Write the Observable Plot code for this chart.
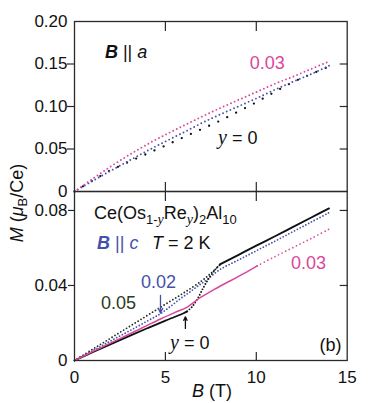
<!DOCTYPE html>
<html><head><meta charset="utf-8">
<script src="https://cdn.jsdelivr.net/npm/d3@7"></script>
<script src="https://cdn.jsdelivr.net/npm/@observablehq/plot@0.6"></script>
<style>
body{margin:0;background:#fff;}
#wrap{position:relative;width:382px;height:403px;font-family:"Liberation Sans",Arial,sans-serif;}
#wrap svg{position:absolute;left:0;overflow:visible;background:transparent;}
</style></head><body><div id="wrap"></div>
<script>
// ---------- Panel (a): B || a ----------
const topB      = [0, 1, 2, 3, 4, 5, 6, 7, 8, 9, 10, 11, 12, 13, 14];
const topM_y0   = [0, 0.0130, 0.0250, 0.0350, 0.0445, 0.0540, 0.0638, 0.0735, 0.0832, 0.0940, 0.1050, 0.1170, 0.1285, 0.1380, 0.1470];
const topM_y002 = [0, 0.0124, 0.0245, 0.0362, 0.0478, 0.0588, 0.0695, 0.0805, 0.0905, 0.1000, 0.1095, 0.1195, 0.1290, 0.1380, 0.1480];
const topM_y003 = [0, 0.0150, 0.0295, 0.0430, 0.0555, 0.0668, 0.0775, 0.0880, 0.0980, 0.1075, 0.1170, 0.1265, 0.1350, 0.1440, 0.1530];
const topYTicks = [0, 0.05, 0.10, 0.15, 0.20];

// ---------- Panel (b): B || c ----------
const botB_y0_low  = [0, 1, 2, 3, 4, 5, 5.5, 6, 6.2];
const botM_y0_low  = [0, 0.0044, 0.0087, 0.0130, 0.0172, 0.0213, 0.0232, 0.0252, 0.0262];
const botB_y0_jump = [6.2, 6.5, 6.8, 7.1, 7.4, 7.7, 8.0];
const botM_y0_jump = [0.0262, 0.0290, 0.0335, 0.0390, 0.0440, 0.0480, 0.0512];
const botB_y0_high = [8.0, 9, 10, 11, 12, 13, 14];
const botM_y0_high = [0.0512, 0.0562, 0.0612, 0.0661, 0.0711, 0.0761, 0.0811];

const botB_y005 = [0, 1, 2, 3, 4, 5, 6, 7, 7.5, 8];
const botM_y005 = [0, 0.0060, 0.0120, 0.0180, 0.0240, 0.0300, 0.0360, 0.0425, 0.0465, 0.0510];

const botB_y002 = [0, 1, 2, 3, 4, 4.7, 5.3, 5.8, 6.3, 6.8, 7.3, 8, 9, 10, 11, 12, 13, 14];
const botM_y002 = [0, 0.0052, 0.0105, 0.0157, 0.0210, 0.0248, 0.0290, 0.0328, 0.0362, 0.0398, 0.0432, 0.0485, 0.0535, 0.0585, 0.0635, 0.0686, 0.0737, 0.0788];

const botB_y003_solid = [0, 1, 2, 3, 4, 4.73, 5.5, 6.2, 6.93, 7.5, 8, 8.58, 9.3, 10.05];
const botM_y003_solid = [0, 0.0047, 0.0094, 0.0140, 0.0187, 0.0221, 0.0255, 0.0285, 0.0336, 0.0368, 0.0396, 0.0425, 0.0463, 0.0505];
const botB_y003_dot   = [10.05, 11, 12, 13, 14];
const botM_y003_dot   = [0.0505, 0.0553, 0.0601, 0.0650, 0.0700];
const botYTicks = [0, 0.04, 0.08];
const xTicks = [0, 5, 10, 15];

// annotation anchors (data coordinates)
const topLabels = [{B: 10.6, M: 0.1507, t: "0.03", c: "magenta"}];
const botLabels = [
  {B: 4.62, M: 0.0416, t: "0.02", c: "blue"},
  {B: 2.42, M: 0.0304, t: "0.05", c: "green"},
  {B: 12.87, M: 0.0517, t: "0.03", c: "magenta"},
  {B: 14.08, M: 0.0080, t: "(b)", c: "black"}
];
const botArrows = [
  {x1: 4.73, y1: 0.0347, x2: 4.73, y2: 0.0253, c: "blue"},
  {x1: 6.10, y1: 0.0171, x2: 6.10, y2: 0.0233, c: "black"}
];

const COL = {magenta: "#d8479c", blue: "#4650ad", green: "#2b3a22", black: "#111"};
const SANS = "Liberation Sans, Arial, sans-serif";
const SERIF = "Liberation Serif, Times New Roman, serif";
const FRAME = "#2a2a2a";

const rows = (B, M) => B.map((b, i) => ({B: b, M: M[i]}));
const blank = () => "";
const fmt = d => d === 0 ? "0" : d.toFixed(2);

const wrap = document.getElementById("wrap");

// ---------- top panel ----------
const topPlot = Plot.plot({
  width: 382, height: 191,
  marginLeft: 74, marginRight: 35.3, marginTop: 21, marginBottom: 0,
  x: {domain: [0, 15], label: null},
  y: {domain: [0, 0.2], label: null},
  style: {fontFamily: SANS, background: "transparent", overflow: "visible"},
  marks: [
    Plot.line(rows(topB, topM_y0), {x: "B", y: "M", stroke: COL.black, strokeWidth: 2.3, strokeDasharray: "0,10", strokeLinecap: "round", curve: "catmull-rom"}),
    Plot.line(rows(topB, topM_y002), {x: "B", y: "M", stroke: COL.blue, strokeWidth: 1.9, strokeDasharray: "0,4", strokeLinecap: "round", curve: "catmull-rom"}),
    Plot.line(rows(topB, topM_y003), {x: "B", y: "M", stroke: COL.magenta, strokeWidth: 1.9, strokeDasharray: "0,4", strokeLinecap: "round", curve: "catmull-rom"}),
    Plot.text(topLabels, {x: "B", y: "M", text: "t", fill: d => COL[d.c], fontSize: 18, fontFamily: SANS}),
    Plot.axisY({anchor: "left", ticks: topYTicks, tickSize: 0, tickPadding: 7, tickFormat: fmt, fontSize: 17, label: null, fill: "#111"}),
    Plot.axisY({anchor: "left", ticks: [0.05, 0.10, 0.15], tickSize: 7, tickFormat: blank, label: null, stroke: FRAME, strokeWidth: 1.2}),
    Plot.axisY({anchor: "right", ticks: [0.05, 0.10, 0.15], tickSize: -8, tickFormat: blank, label: null, stroke: FRAME, strokeWidth: 1.2}),
    Plot.axisX({anchor: "top", ticks: [5, 10], tickSize: -9, tickFormat: blank, label: null, stroke: FRAME, strokeWidth: 1.2}),
    Plot.axisX({anchor: "bottom", ticks: [5, 10], tickSize: -9, tickFormat: blank, label: null, stroke: FRAME, strokeWidth: 1.2}),
    Plot.frame({stroke: FRAME, strokeWidth: 1.3})
  ]
});
topPlot.style.top = "0px";
wrap.appendChild(topPlot);

// ---------- bottom panel ----------
const botPlot = Plot.plot({
  width: 382, height: 212,
  marginLeft: 74, marginRight: 35.3, marginTop: 0, marginBottom: 43,
  x: {domain: [0, 15], label: null},
  y: {domain: [0, 0.0901], label: null},
  style: {fontFamily: SANS, background: "transparent", overflow: "visible"},
  marks: [
    Plot.line(rows(botB_y005, botM_y005), {x: "B", y: "M", stroke: "#1e2a18", strokeWidth: 1.8, strokeDasharray: "0,3.4", strokeLinecap: "round", curve: "catmull-rom"}),
    Plot.line(rows(botB_y002, botM_y002), {x: "B", y: "M", stroke: COL.blue, strokeWidth: 1.8, strokeDasharray: "0,3.2", strokeLinecap: "round", curve: "catmull-rom"}),
    Plot.line(rows(botB_y0_low, botM_y0_low), {x: "B", y: "M", stroke: COL.black, strokeWidth: 1.8, curve: "catmull-rom"}),
    Plot.line(rows(botB_y0_jump, botM_y0_jump), {x: "B", y: "M", stroke: COL.black, strokeWidth: 1.9, strokeDasharray: "0,3", strokeLinecap: "round", curve: "catmull-rom"}),
    Plot.line(rows(botB_y0_high, botM_y0_high), {x: "B", y: "M", stroke: COL.black, strokeWidth: 1.9, curve: "catmull-rom"}),
    Plot.line(rows(botB_y003_solid, botM_y003_solid), {x: "B", y: "M", stroke: COL.magenta, strokeWidth: 1.5, curve: "catmull-rom"}),
    Plot.line(rows(botB_y003_dot, botM_y003_dot), {x: "B", y: "M", stroke: COL.magenta, strokeWidth: 1.7, strokeDasharray: "0,4", strokeLinecap: "round", curve: "catmull-rom"}),
    Plot.arrow(botArrows, {x1: "x1", y1: "y1", x2: "x2", y2: "y2", stroke: d => COL[d.c], strokeWidth: 1.3, headLength: 6, headAngle: 50}),
    Plot.text(botLabels, {x: "B", y: "M", text: "t", fill: d => COL[d.c], fontSize: 18, fontFamily: SANS}),
    Plot.axisY({anchor: "left", ticks: botYTicks, tickSize: 0, tickPadding: 7, tickFormat: fmt, fontSize: 17, label: null, fill: "#111"}),
    Plot.axisY({anchor: "left", ticks: [0.04, 0.08], tickSize: 6, tickFormat: blank, label: null, stroke: FRAME, strokeWidth: 1.2}),
    Plot.axisY({anchor: "right", ticks: [0.04, 0.08], tickSize: -8, tickFormat: blank, label: null, stroke: FRAME, strokeWidth: 1.2}),
    Plot.axisX({anchor: "top", ticks: [5, 10], tickSize: -9, tickFormat: blank, label: null, stroke: FRAME, strokeWidth: 1.2}),
    Plot.axisX({anchor: "bottom", ticks: [5, 10], tickSize: -8, tickFormat: blank, label: null, stroke: FRAME, strokeWidth: 1.2}),
    Plot.axisX({anchor: "bottom", ticks: xTicks, tickSize: 0, tickPadding: 10, fontSize: 17, label: null, fill: "#111"}),
    Plot.frame({stroke: FRAME, strokeWidth: 1.3})
  ]
});
botPlot.style.top = "191px";
wrap.appendChild(botPlot);

// ---------- rich-text annotations placed via the plots' scales ----------
function rich(plot, B, M, parts, {anchor = "start", fill = COL.black, size = 18} = {}) {
  const x = plot.scale("x").apply(B), y = plot.scale("y").apply(M);
  const t = d3.select(plot).append("text")
    .attr("x", x).attr("y", y).attr("dy", "0.36em")
    .attr("text-anchor", anchor).attr("fill", fill)
    .attr("font-size", size).attr("font-family", SANS);
  for (const p of parts) {
    const s = t.append("tspan").text(p.t);
    if (p.i) s.attr("font-style", "italic");
    if (p.b) s.attr("font-weight", "bold");
    if (p.serif) s.attr("font-family", SERIF);
    if (p.size) s.attr("font-size", p.size);
    if (p.dy) s.attr("dy", p.dy);
  }
}
rich(topPlot, 1.7, 0.1636, [{t: "B", b: 1, i: 1}, {t: " || "}, {t: "a", i: 1}]);
rich(topPlot, 7.92, 0.0629, [{t: "y", i: 1, serif: 1, size: 20}, {t: " = 0"}]);

rich(botPlot, 1.1, 0.0784, [
  {t: "Ce(Os"}, {t: "1-", size: 13, dy: 5}, {t: "y", i: 1, serif: 1, size: 14}, {t: "Re", dy: -5},
  {t: "y", i: 1, serif: 1, size: 14, dy: 5}, {t: ")", dy: -5}, {t: "2", size: 13, dy: 5},
  {t: "Al", dy: -5}, {t: "10", size: 13, dy: 5}
]);
rich(botPlot, 1.27, 0.0624, [{t: "B", b: 1, i: 1}, {t: " || "}, {t: "c", i: 1}], {fill: COL.blue});
rich(botPlot, 4.29, 0.0624, [{t: "T", i: 1}, {t: " = 2 K"}]);
rich(botPlot, 5.28, 0.0091, [{t: "y", i: 1, serif: 1, size: 20}, {t: " = 0"}]);

// ---------- shared axis titles ----------
const ov = d3.select(wrap).append("svg").attr("width", 382).attr("height", 403).style("top", "0px").style("pointer-events", "none");
const yl = ov.append("text").attr("transform", "translate(23,203) rotate(-90)").attr("text-anchor", "middle")
  .attr("font-size", 18).attr("font-family", SANS).attr("fill", "#111");
yl.append("tspan").attr("font-style", "italic").text("M");
yl.append("tspan").text(" (");
yl.append("tspan").attr("font-style", "italic").text("μ");
yl.append("tspan").attr("font-size", 13).attr("dy", 4).text("B");
yl.append("tspan").attr("dy", -4).text("/Ce)");
const xl = ov.append("text").attr("x", 212).attr("y", 397).attr("text-anchor", "middle")
  .attr("font-size", 18).attr("font-family", SANS).attr("fill", "#111");
xl.append("tspan").attr("font-style", "italic").text("B");
xl.append("tspan").text(" (T)");
</script></body></html>
